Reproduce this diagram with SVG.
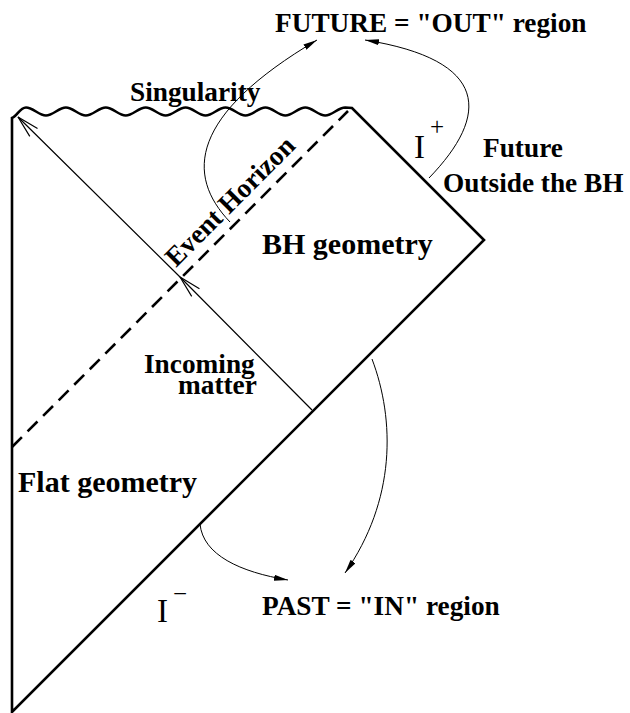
<svg xmlns="http://www.w3.org/2000/svg" width="630" height="713" viewBox="0 0 630 713">
<style>
.b{font-family:"Liberation Serif","Times New Roman",serif;font-weight:bold;font-size:27.3px;fill:#000}
.big{font-size:30px}
.r{font-family:"Liberation Serif","Times New Roman",serif;font-weight:normal;fill:#000}
.frame{fill:none;stroke:#000;stroke-width:2.6;stroke-linejoin:miter;stroke-miterlimit:4}
.dash{fill:none;stroke:#000;stroke-width:2.6;stroke-dasharray:14 8}
.thin{fill:none;stroke:#000;stroke-width:1}
.matter{fill:none;stroke:#000;stroke-width:1.2}
</style>
<defs>
<marker id="ah" viewBox="0 0 14 6" refX="14" refY="3" markerWidth="14" markerHeight="6" markerUnits="userSpaceOnUse" orient="auto">
<path d="M0,0 L14,3 L0,6 Z" fill="#000"/>
</marker>
<marker id="oa" viewBox="-24 -7 26 14" refX="0" refY="0" markerWidth="26" markerHeight="14" markerUnits="userSpaceOnUse" orient="auto">
<path d="M-22,-5.5 L0,0 L-22,5.5" fill="none" stroke="#000" stroke-width="1.2"/>
</marker>
</defs>
<rect width="630" height="713" fill="#fff"/>
<g id="penrose-diagram">
<path class="frame" d="M12,118 C17,116 20,107.5 26,107.5 c7.2,0 12.75,8 19.95,8 c7.2,0 12.75,-8 19.95,-8 c7.2,0 12.75,8 19.95,8 c7.2,0 12.75,-8 19.95,-8 c7.2,0 12.75,8 19.95,8 c7.2,0 12.75,-8 19.95,-8 c7.2,0 12.75,8 19.95,8 c7.2,0 12.75,-8 19.95,-8 c7.2,0 12.75,8 19.95,8 c7.2,0 12.75,-8 19.95,-8 c7.2,0 12.75,8 19.95,8 c7.2,0 12.75,-8 19.95,-8 c7.2,0 12.75,8 19.95,8 c7.2,0 12.75,-8 19.95,-8 c7.2,0 12.75,8 19.95,8 c7.2,0 12.75,-8 19.95,-8 L352,108 L484,240 L12,712 Z"/>
<path id="event-horizon-line" class="dash" d="M12,447 L348,111"/>
</g>
<g id="connectors">
<path id="incoming-matter-ray" class="matter" d="M312,410 L180,277 L18,117" marker-mid="url(#oa)" marker-end="url(#oa)"/>
<path class="thin" d="M230,222 C185,175 190,115 317,40" marker-end="url(#ah)"/>
<path class="thin" d="M429,178 C490,115 490,60 365,40" marker-end="url(#ah)"/>
<path class="thin" d="M372,359 C395,420 396,500 345,573" marker-end="url(#ah)"/>
<path class="thin" d="M200,524 C203,555 240,572 288,580" marker-end="url(#ah)"/>
</g>
<g id="future-out"><text class="b" x="275" y="32">FUTURE = "OUT" region</text></g>
<g id="singularity"><text class="b" x="130" y="101">Singularity</text></g>
<g id="scri-plus"><text class="r" x="414" y="158" font-size="33">I</text><text class="r" x="430" y="135" font-size="25">+</text></g>
<g id="future-outside"><text class="b" x="483" y="157">Future</text><text class="b" x="443" y="192">Outside the BH</text></g>
<g id="event-horizon"><text class="b" transform="translate(176,268) rotate(-45)" x="0" y="0">Event Horizon</text></g>
<g id="bh-geometry"><text class="b big" x="262" y="254">BH geometry</text></g>
<g id="incoming-matter"><text class="b" x="144" y="373">Incoming</text><text class="b" x="178" y="394">matter</text></g>
<g id="flat-geometry"><text class="b big" x="18" y="492">Flat geometry</text></g>
<g id="scri-minus"><text class="r" x="157" y="622" font-size="33">I</text><text class="r" x="173" y="602" font-size="25">−</text></g>
<g id="past-in"><text class="b" x="262" y="615">PAST = "IN" region</text></g>
</svg>
